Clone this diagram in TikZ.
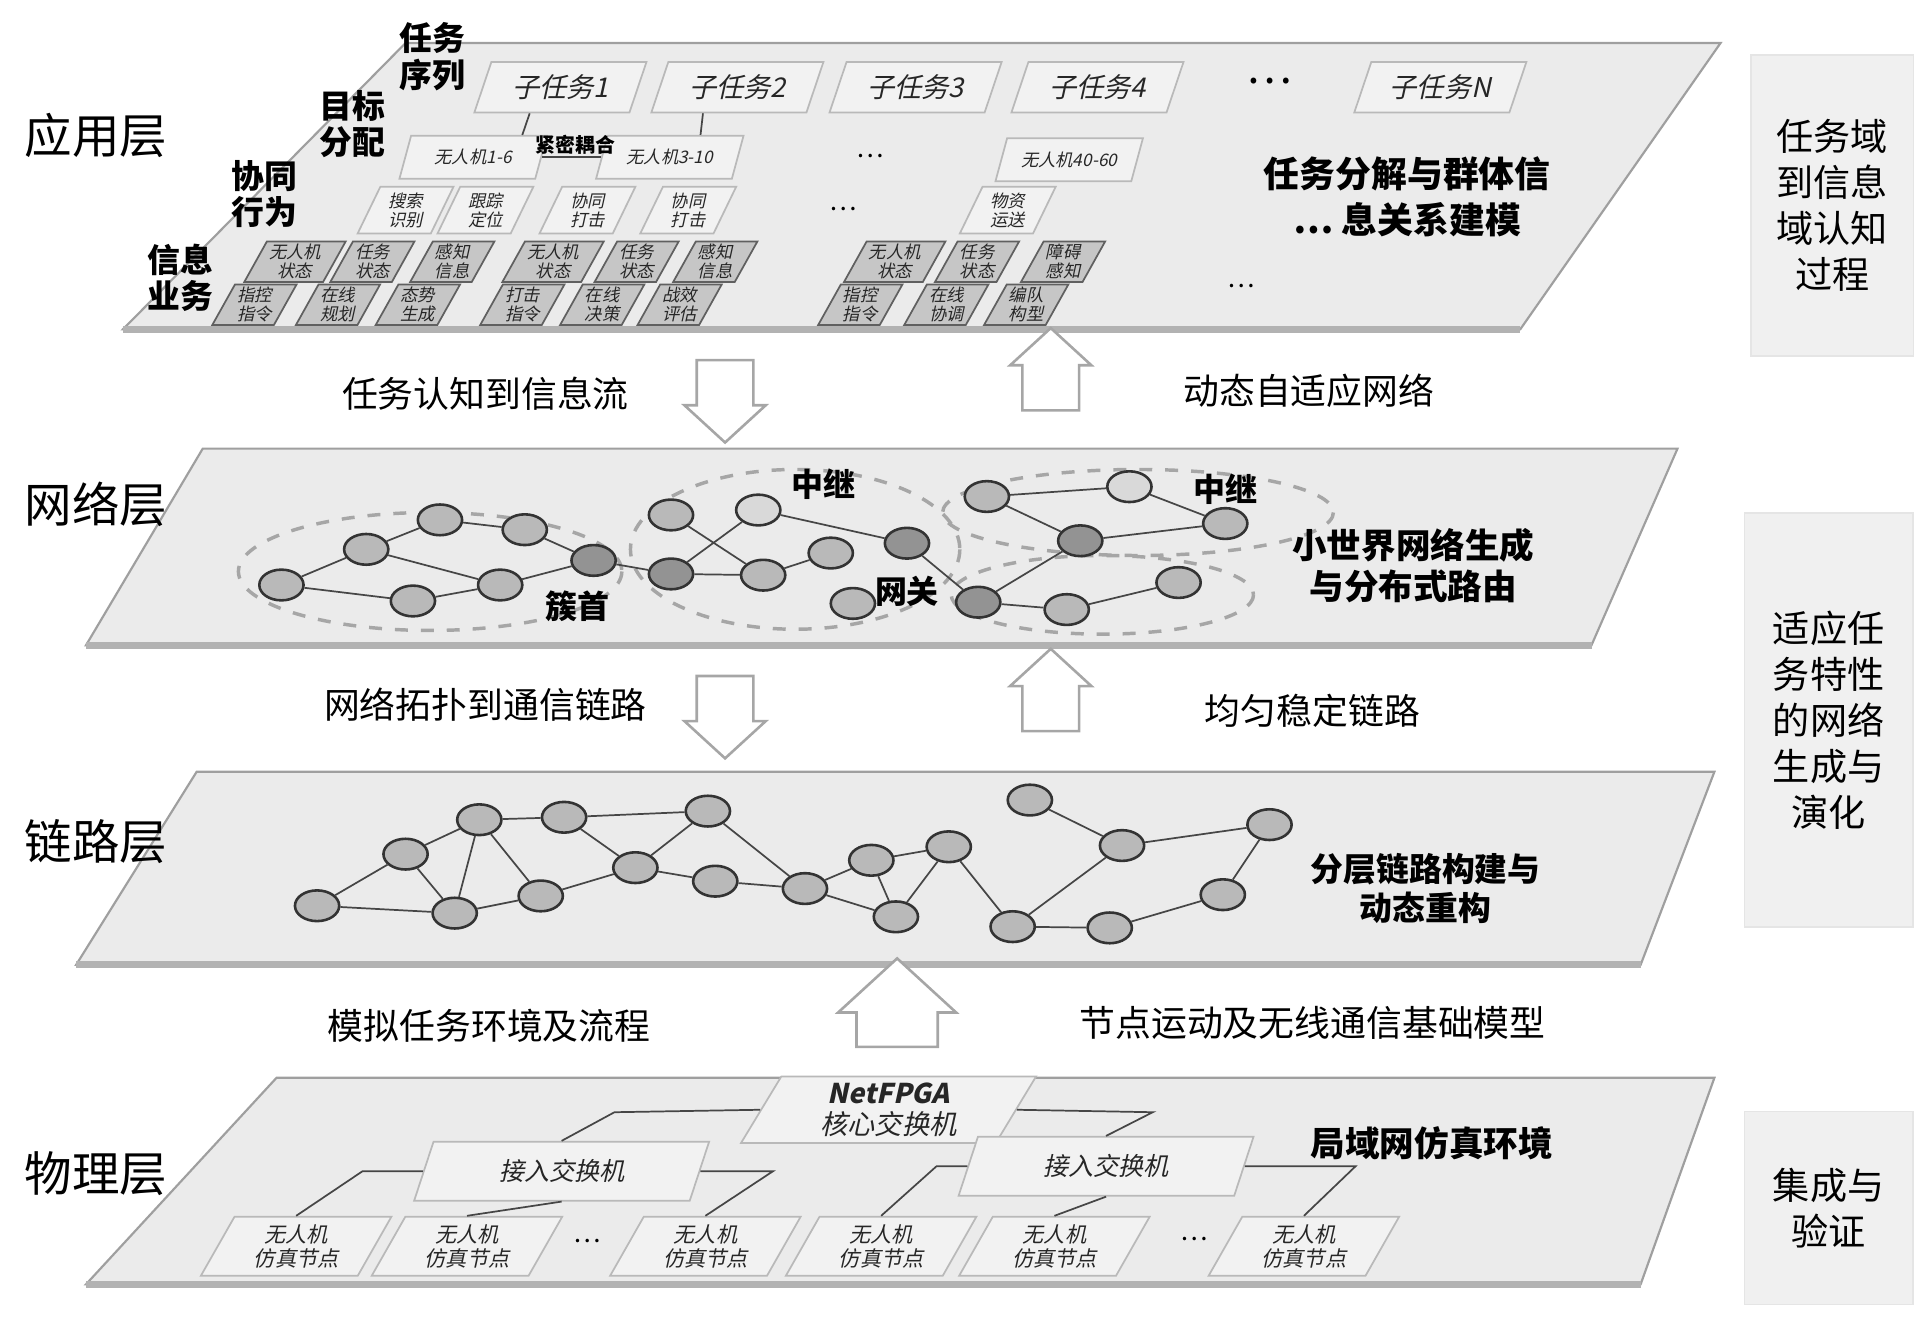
\documentclass[tikz,border=0pt]{standalone}
\usepackage{fontspec}
\setmainfont{Noto Sans CJK SC}
\newfontfamily\slfont[FakeSlant=0.22]{Noto Sans CJK SC}
\usetikzlibrary{shapes.geometric,shapes.arrows,calc}
\begin{document}
\begin{tikzpicture}[x=0.1mm, y=-0.1mm,
  plane/.style={fill=gray!16, draw=gray!75, line width=0.5pt},
  pbox/.style={trapezium, trapezium left angle=60, trapezium right angle=120, trapezium stretches body,
    draw=gray!55, fill=gray!10, inner sep=0.5pt, align=center, font=\slfont\fontsize{4}{4.4}\selectfont, text=gray!30!black},
  dbox/.style={pbox, fill=gray!45, draw=gray!75!black, minimum width=6.6mm, minimum height=3.3mm},
  uav/.style={ellipse, draw=black!80, line width=0.6pt, fill=gray!55, minimum width=3.6mm, minimum height=2.5mm, inner sep=0pt},
  dark/.style={uav, fill=gray!85},
  light/.style={uav, fill=gray!30},
  link/.style={draw=gray!55!black, line width=0.4pt},
  blk/.style={single arrow, draw=gray!70, fill=white, line width=0.6pt, inner xsep=0pt, inner ysep=2.2mm,
    minimum height=6.7mm, single arrow head extend=1mm, single arrow tip angle=95},
  lay/.style={font=\fontsize{11}{13}\selectfont},
  mid/.style={font=\fontsize{8.3}{10}\selectfont},
  side/.style={fill=gray!12, draw=gray!20, align=center, font=\fontsize{8.6}{10.6}\selectfont},
  tag/.style={font=\bfseries\fontsize{7.4}{8.2}\selectfont, align=center}]
\useasboundingbox (0,0) rectangle (1568,1072);

% layers
\draw[plane] (100,268) -- (330,35) -- (1400,35) -- (1237,268) -- cycle;
\draw[plane] (70,525) -- (165,365) -- (1365,365) -- (1295,525) -- cycle;
\draw[plane] (62,785) -- (160,628) -- (1395,628) -- (1335,785) -- cycle;
\draw[plane] (70,1045) -- (225,877) -- (1395,877) -- (1335,1045) -- cycle;
\foreach \a/\b/\y in {100/1237/268, 70/1295/525, 62/1335/785, 70/1335/1045}
  \draw[gray!60, line width=1.6pt] (\a,\y) -- (\b,\y);

\node[lay] (lapp) at (78,110) {应用层};
\node[lay] (lnet) at (78,410) {网络层};
\node[lay] (llnk) at (78,685) {链路层};
\node[lay] (lphy) at (78,955) {物理层};

\node[side, minimum width=13.2mm, minimum height=24.5mm] (r1) at (1491,167) {任务域\\到信息\\域认知\\过程};
\node[side, minimum width=13.7mm, minimum height=33.7mm] (r2) at (1488,586) {适应任\\务特性\\的网络\\生成与\\演化};
\node[side, minimum width=13.7mm, minimum height=15.7mm] (r3) at (1488,983) {集成与\\验证};

% application layer
\node[tag, font=\bfseries\fontsize{7.6}{8.4}\selectfont] (q1) at (352,46) {任务\\序列};
\node[tag, font=\bfseries\fontsize{7.6}{8.4}\selectfont] (q2) at (287,101) {目标\\分配};
\node[tag, font=\bfseries\fontsize{7.6}{8.4}\selectfont] (q3) at (215,158) {协同\\行为};
\node[tag, font=\bfseries\fontsize{7.6}{8.4}\selectfont] (q4) at (147,226) {信息\\业务};

\foreach \x/\t [count=\i] in {456/子任务1, 600/子任务2, 745/子任务3, 893/子任务4, 1172/子任务N}
  \node[pbox, minimum width=14mm, minimum height=4.1mm, font=\slfont\fontsize{6.3}{7}\selectfont] (t\i) at (\x,71) {\t};
\node (tdots) at (1033,66) {…};

\node[pbox, minimum width=12mm, minimum height=3.5mm] (u1) at (385,128) {无人机1-6};
\node[pbox, minimum width=12mm, minimum height=3.5mm] (u2) at (545,128) {无人机3-10};
\node[pbox, minimum width=12mm, minimum height=3.5mm] (u3) at (870,130) {无人机40-60};
\node[font=\fontsize{6}{6}\selectfont] (udots) at (708,127) {…};
\node[tag, font=\bfseries\fontsize{4.6}{5}\selectfont] (cp) at (468,118) {紧密耦合};
\draw[link] ([xshift=-2.5mm]t1.south) -- ([xshift=4mm]u1.north);
\draw[link] ([xshift=-2.8mm]t2.south) -- ([xshift=2.5mm]u2.north);
\draw[link] (u1.east) -- (u2.west);

\foreach \x/\t [count=\i] in {330/{搜索\\识别}, 395/{跟踪\\定位}, 478/{协同\\打击}, 560/{协同\\打击}, 820/{物资\\运送}}
  \node[pbox, minimum width=7.8mm, minimum height=3.8mm] (b\i) at (\x,171) {\t};
\node[font=\fontsize{6}{6}\selectfont] (bdots) at (686,170) {…};

\foreach \x/\t [count=\i] in {240/{无人机\\状态}, 303/{任务\\状态}, 368/{感知\\信息}, 450/{无人机\\状态}, 518/{任务\\状态}, 582/{感知\\信息}, 728/{无人机\\状态}, 795/{任务\\状态}, 865/{障碍\\感知}}
  \node[dbox] (s\i) at (\x,213) {\t};
\foreach \x/\t [count=\i] in {207/{指控\\指令}, 275/{在线\\规划}, 340/{态势\\生成}, 425/{打击\\指令}, 490/{在线\\决策}, 553/{战效\\评估}, 700/{指控\\指令}, 770/{在线\\协调}, 835/{编队\\构型}}
  \node[dbox] (c\i) at (\x,248) {\t};
\node[font=\fontsize{6}{6}\selectfont] (cdots) at (1010,233) {…};
\node[tag, font=\bfseries\fontsize{8.3}{10.5}\selectfont] (appt) at (1145,160) {任务分解与群体信\\… 息关系建模};

% arrows between layers
\node[blk, rotate=-90] (a1) at (590,316) {};
\node[blk, rotate=90] (a2) at (855,311) {};
\node[blk, rotate=-90] (a3) at (590,573) {};
\node[blk, rotate=90] (a4) at (855,572) {};
\node[blk, rotate=90, minimum height=7.2mm, inner ysep=3.2mm, single arrow head extend=1.5mm] (a5) at (730,831) {};
\node[mid] (m1) at (395,320) {任务认知到信息流};
\node[mid] (m2) at (1065,318) {动态自适应网络};
\node[mid] (m3) at (395,573) {网络拓扑到通信链路};
\node[mid] (m4) at (1068,578) {均匀稳定链路};
\node[mid] (m5) at (398,835) {模拟任务环境及流程};
\node[mid] (m6) at (1068,832) {节点运动及无线通信基础模型};

% network layer
\draw[dashed, gray!70, line width=0.8pt] (350,465) ellipse (156 and 48);
\draw[dashed, gray!70, line width=0.8pt] (647,447) ellipse (134 and 65);
\draw[dashed, gray!70, line width=0.8pt] (926,417) ellipse (159 and 35);
\draw[dashed, gray!70, line width=0.8pt] (897,484) ellipse (123 and 32);
\node[uav] (na1) at (229,476) {};
\node[uav] (na2) at (298,447) {};
\node[uav] (na3) at (358,423) {};
\node[uav] (na4) at (427,431) {};
\node[dark] (na5) at (483,456) {};
\node[uav] (na6) at (407,476) {};
\node[uav] (na7) at (336,489) {};
\node[dark] (nb1) at (546,467) {};
\node[uav] (nb2) at (546,419) {};
\node[light] (nb3) at (617,415) {};
\node[uav] (nb4) at (621,468) {};
\node[uav] (nb5) at (676,450) {};
\node[uav] (nb6) at (694,491) {};
\node[dark] (ng) at (738,442) {};
\node[uav] (nc1) at (803,404) {};
\node[light] (nc2) at (919,396) {};
\node[uav] (nc3) at (997,426) {};
\node[dark] (nc4) at (879,440) {};
\node[dark] (nc5) at (796,490) {};
\node[uav] (nc6) at (868,496) {};
\node[uav] (nc7) at (959,474) {};
\foreach \p/\q in {na1/na2, na2/na3, na3/na4, na4/na5, na2/na6, na1/na7, na7/na6, na6/na5, na5/nb1,
    nb2/nb4, nb3/nb1, nb1/nb4, nb4/nb5, nb3/ng, ng/nc5, nc1/nc2, nc2/nc3, nc1/nc4, nc4/nc3, nc4/nc5, nc5/nc6, nc6/nc7}
  \draw[link] (\p) -- (\q);
\node[tag] (k1) at (670,394) {中继};
\node[tag] (k2) at (997,398) {中继};
\node[tag] (k3) at (738,481) {网关};
\node[tag] (k4) at (470,493) {簇首};
\node[tag, font=\bfseries\fontsize{8}{9.4}\selectfont] (nett) at (1150,460) {小世界网络生成\\与分布式路由};

% link layer
\foreach \n/\x/\y in {1/258/737, 2/330/695, 3/390/667, 4/459/665, 5/576/660, 6/370/743, 7/440/729, 8/517/706,
    9/582/717, 10/655/723, 11/709/700, 12/772/689, 13/729/746, 14/838/651, 15/913/688, 16/1033/671,
    17/824/754, 18/903/755, 19/995/728}
  \node[uav] (l\n) at (\x,\y) {};
\foreach \p/\q in {1/2, 2/3, 3/4, 4/5, 1/6, 2/6, 3/6, 3/7, 4/8, 8/5, 6/7, 7/8, 8/9, 9/10, 5/10, 10/11, 11/12,
    11/13, 10/13, 12/13, 12/17, 14/15, 15/16, 15/17, 17/18, 18/19, 19/16}
  \draw[link] (l\p) -- (l\q);
\node[tag, font=\bfseries\fontsize{7.6}{9.2}\selectfont] (lnkt) at (1160,723) {分层链路构建与\\动态重构};

% physical layer
\node[pbox, trapezium left angle=55, trapezium right angle=125, minimum width=24mm, minimum height=5.4mm,
  font=\slfont\fontsize{6.3}{7}\selectfont] (core) at (723,903) {\textbf{NetFPGA}\\核心交换机};
\node[pbox, trapezium left angle=55, trapezium right angle=125, minimum width=24mm, minimum height=4.8mm,
  font=\slfont\fontsize{5.8}{6}\selectfont] (swl) at (457,953) {接入交换机};
\node[pbox, trapezium left angle=55, trapezium right angle=125, minimum width=24mm, minimum height=4.8mm,
  font=\slfont\fontsize{5.8}{6}\selectfont] (swr) at (900,949) {接入交换机};
\foreach \x [count=\i] in {241, 380, 574, 717, 858, 1061}
  \node[pbox, trapezium left angle=55, trapezium right angle=125, minimum width=15.5mm, minimum height=4.8mm,
    font=\slfont\fontsize{4.9}{5.6}\selectfont] (h\i) at (\x,1014) {无人机\\仿真节点};
\node[font=\fontsize{6}{6}\selectfont] (hd1) at (478,1010) {…};
\node[font=\fontsize{6}{6}\selectfont] (hd2) at (972,1008) {…};
\draw[link] (core.west) -- (500,905) -- (swl.north);
\draw[link] (core.east) -- (938,905) -- (swr.north);
\draw[link] (swl.west) -- (295,953) -- (h1.north);
\draw[link] (swl.south) -- (h2.north);
\draw[link] (swl.east) -- (629,953) -- (h3.north);
\draw[link] (swr.west) -- (762,949) -- (h4.north);
\draw[link] (swr.south) -- (h5.north);
\draw[link] (swr.east) -- (1103,949) -- (h6.north);
\node[tag, font=\bfseries\fontsize{8}{9}\selectfont] (phyt) at (1165,930) {局域网仿真环境};
\end{tikzpicture}
\end{document}
